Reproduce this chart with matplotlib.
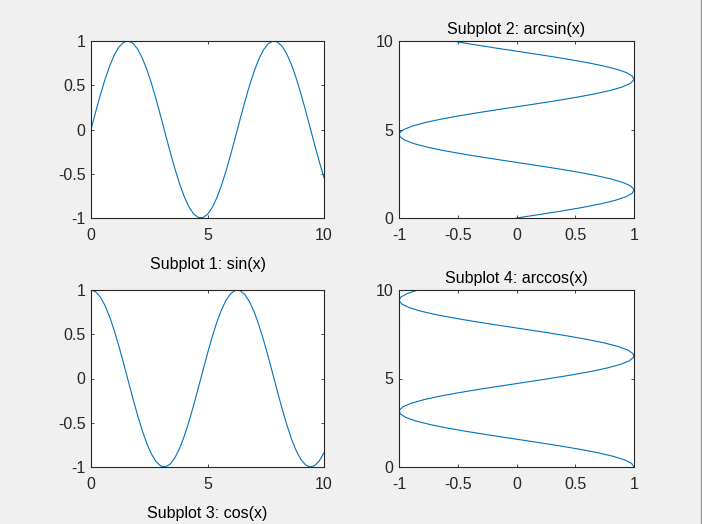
import matplotlib
matplotlib.use("Agg")
import matplotlib.pyplot as plt

plt.rcParams['font.family'] = ['Liberation Sans', 'DejaVu Sans']
plt.rcParams['axes.unicode_minus'] = False

x_vals = [0.0, 0.2, 0.4, 0.6, 0.8, 1.0, 1.2, 1.4, 1.6, 1.8,
          2.0, 2.2, 2.4, 2.6, 2.8, 3.0, 3.2, 3.4, 3.6, 3.8,
          4.0, 4.2, 4.4, 4.6, 4.8, 5.0, 5.2, 5.4, 5.6, 5.8,
          6.0, 6.2, 6.4, 6.6, 6.8, 7.0, 7.2, 7.4, 7.6, 7.8,
          8.0, 8.2, 8.4, 8.6, 8.8, 9.0, 9.2, 9.4, 9.6, 9.8, 10.0]
sin_vals = [0.000, 0.199, 0.389, 0.565, 0.717, 0.841, 0.932, 0.985, 1.000, 0.974,
            0.909, 0.808, 0.675, 0.516, 0.335, 0.141, -0.058, -0.256, -0.443, -0.612,
            -0.757, -0.872, -0.952, -0.994, -0.996, -0.959, -0.883, -0.773, -0.631, -0.465,
            -0.279, -0.083, 0.117, 0.312, 0.494, 0.657, 0.794, 0.899, 0.968, 0.999,
            0.989, 0.941, 0.855, 0.734, 0.585, 0.412, 0.223, 0.025, -0.174, -0.366, -0.544]
cos_vals = [1.000, 0.980, 0.921, 0.825, 0.697, 0.540, 0.362, 0.170, -0.029, -0.227,
            -0.416, -0.589, -0.737, -0.857, -0.942, -0.990, -0.998, -0.967, -0.897, -0.791,
            -0.654, -0.490, -0.307, -0.112, 0.087, 0.284, 0.469, 0.635, 0.776, 0.886,
            0.960, 0.997, 0.993, 0.950, 0.869, 0.754, 0.608, 0.438, 0.251, 0.054,
            -0.146, -0.339, -0.519, -0.680, -0.811, -0.911, -0.975, -1.000, -0.985, -0.930, -0.839]

ticks_pm1 = [-1, -0.5, 0, 0.5, 1]
labels_pm1 = ['-1', '-0.5', '0', '0.5', '1']
ticks_010 = [0, 5, 10]
labels_010 = ['0', '5', '10']

titles = ['Subplot 1: sin(x)', 'Subplot 2: arcsin(x)', 'Subplot 3: cos(x)', 'Subplot 4: arccos(x)']

W, H = 702, 524
BG = '#f0f0f0'
AX = '#262626'
LINE = '#0072bd'
FS = 11.5

fig = plt.figure(figsize=(W / 100, H / 100), dpi=100, facecolor=BG)

def make_ax(l, t, r, b):
    ax = fig.add_axes([l / W, 1 - b / H, (r - l) / W, (b - t) / H])
    for s in ax.spines.values():
        s.set_color(AX)
        s.set_linewidth(0.8)
    ax.tick_params(direction='in', top=True, right=True, length=2.5, width=0.6,
                   color=AX, labelcolor=AX, labelsize=FS)
    ax.tick_params(axis='x', pad=7.5)
    ax.tick_params(axis='y', pad=4)
    return ax

ax1 = make_ax(91, 41, 324, 218)
ax2 = make_ax(399, 41, 634, 218)
ax3 = make_ax(91, 290, 324, 467)
ax4 = make_ax(399, 290, 634, 467)

for ax, yv in ((ax1, sin_vals), (ax3, cos_vals)):
    ax.plot(x_vals, yv, color=LINE, lw=0.8)
    ax.set_xlim(0, 10)
    ax.set_ylim(-1, 1)
    ax.set_xticks(ticks_010, labels_010)
    ax.set_yticks(ticks_pm1, labels_pm1)

for ax, xv in ((ax2, sin_vals), (ax4, cos_vals)):
    ax.plot(xv, x_vals, color=LINE, lw=0.8)
    ax.set_xlim(-1, 1)
    ax.set_ylim(0, 10)
    ax.set_xticks(ticks_pm1, labels_pm1)
    ax.set_yticks(ticks_010, labels_010)

ax1.set_xlabel(titles[0], fontsize=FS, color='black', labelpad=9.5)
ax3.set_xlabel(titles[2], fontsize=FS, color='black', labelpad=9.5)
ax2.set_title(titles[1], fontsize=FS, color='black', pad=5)
ax4.set_title(titles[3], fontsize=FS, color='black', pad=5)

fig.add_artist(plt.Line2D([700.5 / W, 700.5 / W], [0, 1], transform=fig.transFigure,
                          color='#a0a0a0', lw=1))

fig.savefig('out.png', dpi=100, facecolor=BG)
